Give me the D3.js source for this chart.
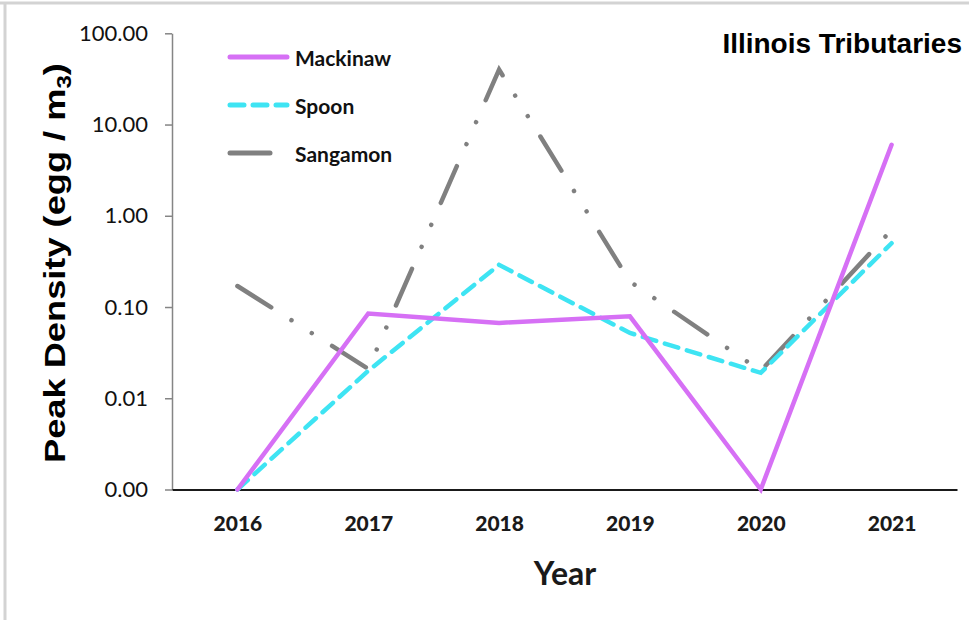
<!DOCTYPE html>
<html>
<head>
<meta charset="utf-8">
<script src="https://cdn.jsdelivr.net/npm/d3@7"></script>
<style>
  body { margin: 0; background: #fff; }
  svg { display: block; }
</style>
</head>
<body>
<svg id="chart" width="969" height="620"></svg>
<script>
// Peak egg density per tributary and year (zero = no eggs, drawn on the axis floor)
const years = ["2016", "2017", "2018", "2019", "2020", "2021"];
const mackinaw = [0, 0.085, 0.067, 0.079, 0, 6.0];
const spoon = [0, 0.020, 0.29, 0.052, 0.019, 0.50];
const sangamon = [0.17, 0.021, 40, 0.19, 0.020, 0.70];
const yTicks = [0.001, 0.01, 0.1, 1, 10, 100];
const seriesNames = ["Mackinaw", "Spoon", "Sangamon"];

const series = [
  { name: seriesNames[0], values: mackinaw, color: "#d670f5", dash: null },
  { name: seriesNames[1], values: spoon, color: "#3ee4f3", dash: "14,9" },
  { name: seriesNames[2], values: sangamon, color: "#808080", dash: "40,24,0.01,24,0.01,24" }
];

const svg = d3.select("#chart");
const W = 969, H = 620;
const plot = { left: 172, right: 957, top: 33.3, bottom: 489.5 };

// Light frame on top and left edges
svg.append("line").attr("x1", 0).attr("x2", W).attr("y1", 3).attr("y2", 3)
  .attr("stroke", "#d3d3d3").attr("stroke-width", 3);
svg.append("line").attr("x1", 5).attr("x2", 5).attr("y1", 3).attr("y2", H)
  .attr("stroke", "#d3d3d3").attr("stroke-width", 3);

const x = d3.scalePoint().domain(years).range([plot.left, plot.right]).padding(0.5);
const yMin = yTicks[0];
const y = d3.scaleLog().domain([yMin, yTicks[yTicks.length - 1]]).range([plot.bottom, plot.top]);

// Y axis
const yAxis = svg.append("g")
  .attr("transform", `translate(${plot.left},0)`)
  .call(d3.axisLeft(y).tickValues(yTicks).tickFormat(d3.format(".2f"))
    .tickSize(7).tickSizeOuter(0).tickPadding(17));
yAxis.select(".domain").attr("stroke", "#858585").attr("stroke-width", 1.5);
yAxis.selectAll(".tick line").attr("stroke", "#858585").attr("stroke-width", 1.5);
yAxis.selectAll(".tick text")
  .attr("font-family", "Lato, sans-serif").attr("font-size", 22)
  .attr("fill", "#111");

// X axis
const xAxis = svg.append("g")
  .attr("transform", `translate(0,${plot.bottom})`)
  .call(d3.axisBottom(x).tickSize(0).tickSizeOuter(0).tickPadding(27));
xAxis.select(".domain").attr("stroke", "#1a1a1a").attr("stroke-width", 2.2);
xAxis.selectAll(".tick text")
  .attr("font-family", "Lato, sans-serif").attr("font-weight", 900)
  .attr("font-size", 21).attr("fill", "#1a1a1a");

// Lines
const line = d3.line()
  .x((d, i) => x(years[i]))
  .y(d => y(Math.max(d, yMin)));

svg.append("g").selectAll("path")
  .data(series.slice().reverse())
  .join("path")
  .attr("d", d => line(d.values))
  .attr("fill", "none")
  .attr("stroke", d => d.color)
  .attr("stroke-width", 4.5)
  .attr("stroke-linecap", "round")
  .attr("stroke-linejoin", "miter")
  .attr("stroke-dasharray", d => d.dash);

// Legend
const legend = svg.append("g");
series.forEach((s, i) => {
  const ly = 57 + i * 48;
  legend.append("line")
    .attr("x1", 230).attr("x2", 287).attr("y1", ly).attr("y2", ly)
    .attr("stroke", s.color).attr("stroke-width", 5)
    .attr("stroke-linecap", "round")
    .attr("stroke-dasharray", s.dash);
  legend.append("text")
    .attr("x", 295).attr("y", ly)
    .attr("dominant-baseline", "central")
    .attr("font-family", "Lato, sans-serif").attr("font-weight", 700)
    .attr("font-size", 21).attr("fill", "#111")
    .text(s.name);
});

// Title
svg.append("text")
  .attr("x", 962).attr("y", 53)
  .attr("text-anchor", "end")
  .attr("font-family", "'Liberation Sans', Arial, sans-serif")
  .attr("font-weight", 700).attr("font-size", 28).attr("fill", "#000")
  .text("Illinois Tributaries");

// Axis titles
svg.append("text")
  .attr("x", 565).attr("y", 585)
  .attr("text-anchor", "middle")
  .attr("font-family", "Lato, sans-serif").attr("font-weight", 700)
  .attr("font-size", 32).attr("fill", "#1a1a1a")
  .text("Year");

const yTitleG = svg.append("g");
const yTitle = yTitleG.append("text")
  .attr("text-anchor", "middle")
  .attr("font-family", "'Liberation Sans', Arial, sans-serif")
  .attr("font-weight", 700).attr("font-size", 30).attr("fill", "#000");
yTitle.append("tspan").text("Peak Density (egg / m");
yTitle.append("tspan").attr("font-size", 20).attr("dy", 6).text("3");
yTitle.append("tspan").attr("dy", -6).text(")");
const measured = yTitle.node().getComputedTextLength();
const stretch = 400 / measured;
yTitleG.attr("transform", `translate(65,263) rotate(-90) scale(${stretch},1)`);
</script>
</body>
</html>
